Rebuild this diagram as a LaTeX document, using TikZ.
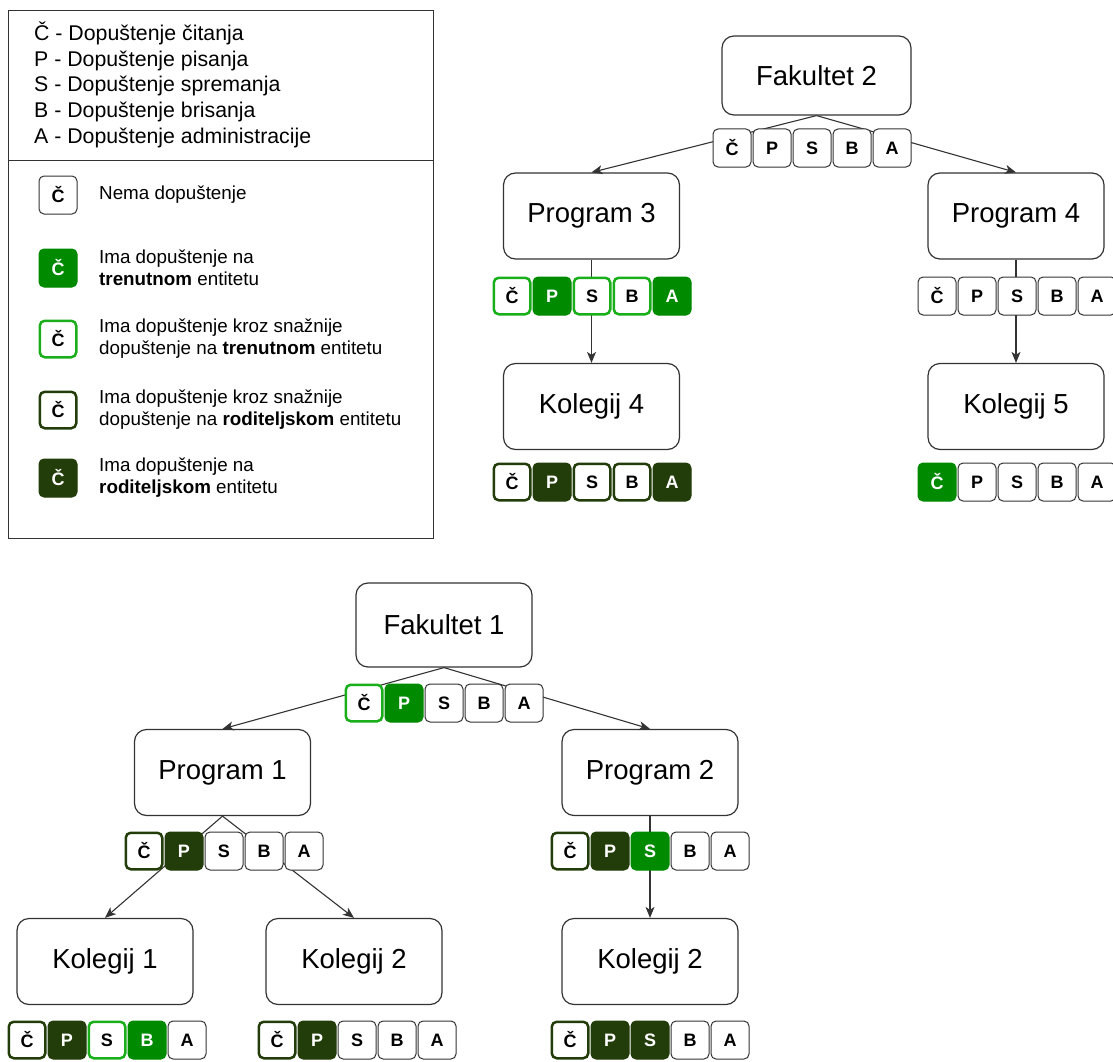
\documentclass[tikz,border=0pt]{standalone}
\usepackage{fontspec}
\setmainfont{Liberation Sans}
\usetikzlibrary{arrows.meta}

\definecolor{curgreen}{HTML}{008A00}
\definecolor{viagreen}{HTML}{1AAE1A}
\definecolor{pargreen}{HTML}{233D0A}
\definecolor{edgegray}{HTML}{333333}

\tikzset{
  entity/.style={draw=edgegray, line width=1.2pt, rounded corners=12pt,
    minimum width=176pt, minimum height=86pt, font=\fontsize{27.5}{30}\selectfont},
  perm/.style={draw=edgegray, line width=1pt, fill=white, rounded corners=5pt,
    minimum size=38pt, inner sep=0pt, font=\fontsize{18}{20}\selectfont\bfseries},
  pnone/.style={},
  pcur/.style={fill=curgreen, draw=curgreen, text=white},
  pcurv/.style={draw=viagreen, line width=2.5pt, minimum size=36.5pt},
  ppar/.style={fill=pargreen, draw=pargreen, text=white},
  pparv/.style={draw=pargreen, line width=2.5pt, minimum size=36.5pt},
  edge/.style={draw=edgegray, line width=1.1pt, -{Stealth[length=11pt,width=9pt,inset=3pt]}},
  keytext/.style={anchor=base west, inner sep=0pt, font=\fontsize{21.3}{24}\selectfont},
  legtext/.style={anchor=west, inner sep=0pt, align=left, font=\fontsize{18.8}{22}\selectfont},
}

% name, left x, top y, states of C P S B A
\newcommand{\permrow}[4]{%
  \foreach \t [count=\i from 0] in {#4}
    \node[perm,\t] (#1-\i) at ({#2+20+40*\i},{#3+20}) {\ifcase\i Č\or P\or S\or B\or A\fi};
}

\begin{document}
\begin{tikzpicture}[x=1pt,y=-1pt]
  \useasboundingbox (0,0) rectangle (1113,1062);

  % legend
  \draw[edgegray, line width=1pt] (8,11) rectangle (433,538);
  \draw[edgegray, line width=1pt] (8,160) -- (433,160);
  \foreach \txt [count=\i from 0] in {Č - Dopuštenje čitanja, P - Dopuštenje pisanja,
      S - Dopuštenje spremanja, B - Dopuštenje brisanja, A - Dopuštenje administracije}
    \node[keytext] (key\i) at (34,{41+25.5*\i}) {\txt};
  \node[perm,pnone] (l1) at (58,195) {Č};
  \node[perm,pcur] (l2) at (58,268) {Č};
  \node[perm,pcurv] (l3) at (58,339) {Č};
  \node[perm,pparv] (l4) at (58,410) {Č};
  \node[perm,ppar] (l5) at (58,478) {Č};
  \node[legtext] (t1) at (99,195) {Nema dopuštenje};
  \node[legtext] (t2) at (99,268) {Ima dopuštenje na\\\textbf{trenutnom} entitetu};
  \node[legtext] (t3) at (99,339) {Ima dopuštenje kroz snažnije\\dopuštenje na \textbf{trenutnom} entitetu};
  \node[legtext] (t4) at (99,410) {Ima dopuštenje kroz snažnije\\dopuštenje na \textbf{roditeljskom} entitetu};
  \node[legtext] (t5) at (99,478) {Ima dopuštenje na\\\textbf{roditeljskom} entitetu};

  % upper tree
  \node[entity, minimum width=189pt, minimum height=79pt] (f2) at (816.5,75.5) {Fakultet 2};
  \node[entity] (p3) at (591.5,216) {Program 3};
  \node[entity] (p4) at (1016,216) {Program 4};
  \node[entity] (k4) at (591.5,406.5) {Kolegij 4};
  \node[entity] (k5) at (1016,406.5) {Kolegij 5};

  % lower tree
  \node[entity, minimum height=84pt] (f1) at (444,625) {Fakultet 1};
  \node[entity] (p1) at (222.5,772.5) {Program 1};
  \node[entity] (p2) at (650,772.5) {Program 2};
  \node[entity] (k1) at (105,961.5) {Kolegij 1};
  \node[entity] (k2) at (354,961.5) {Kolegij 2};
  \node[entity] (k2b) at (650,961.5) {Kolegij 2};

  \draw[edge] (f2.south) -- (p3.north);
  \draw[edge] (f2.south) -- (p4.north);
  \draw[edge] (p3.south) -- (k4.north);
  \draw[edge] (p4.south) -- (k5.north);
  \draw[edge] (f1.south) -- (p1.north);
  \draw[edge] (f1.south) -- (p2.north);
  \draw[edge] (p1.south) -- (k1.north);
  \draw[edge] (p1.south) -- (k2.north);
  \draw[edge] (p2.south) -- (k2b.north);

  \permrow{f2}{712}{128}{pnone,pnone,pnone,pnone,pnone}
  \permrow{p3}{492}{276}{pcurv,pcur,pcurv,pcurv,pcur}
  \permrow{p4}{917}{276}{pnone,pnone,pnone,pnone,pnone}
  \permrow{k4}{492}{462}{pparv,ppar,pparv,pparv,ppar}
  \permrow{k5}{917}{462}{pcur,pnone,pnone,pnone,pnone}
  \permrow{f1}{344}{683}{pcurv,pcur,pnone,pnone,pnone}
  \permrow{p1}{124}{831}{pparv,ppar,pnone,pnone,pnone}
  \permrow{p2}{550}{831}{pparv,ppar,pcur,pnone,pnone}
  \permrow{k1}{7}{1020}{pparv,ppar,pcurv,pcur,pnone}
  \permrow{k2}{257}{1020}{pparv,ppar,pnone,pnone,pnone}
  \permrow{k2b}{550}{1020}{pparv,ppar,ppar,pnone,pnone}
\end{tikzpicture}
\end{document}
